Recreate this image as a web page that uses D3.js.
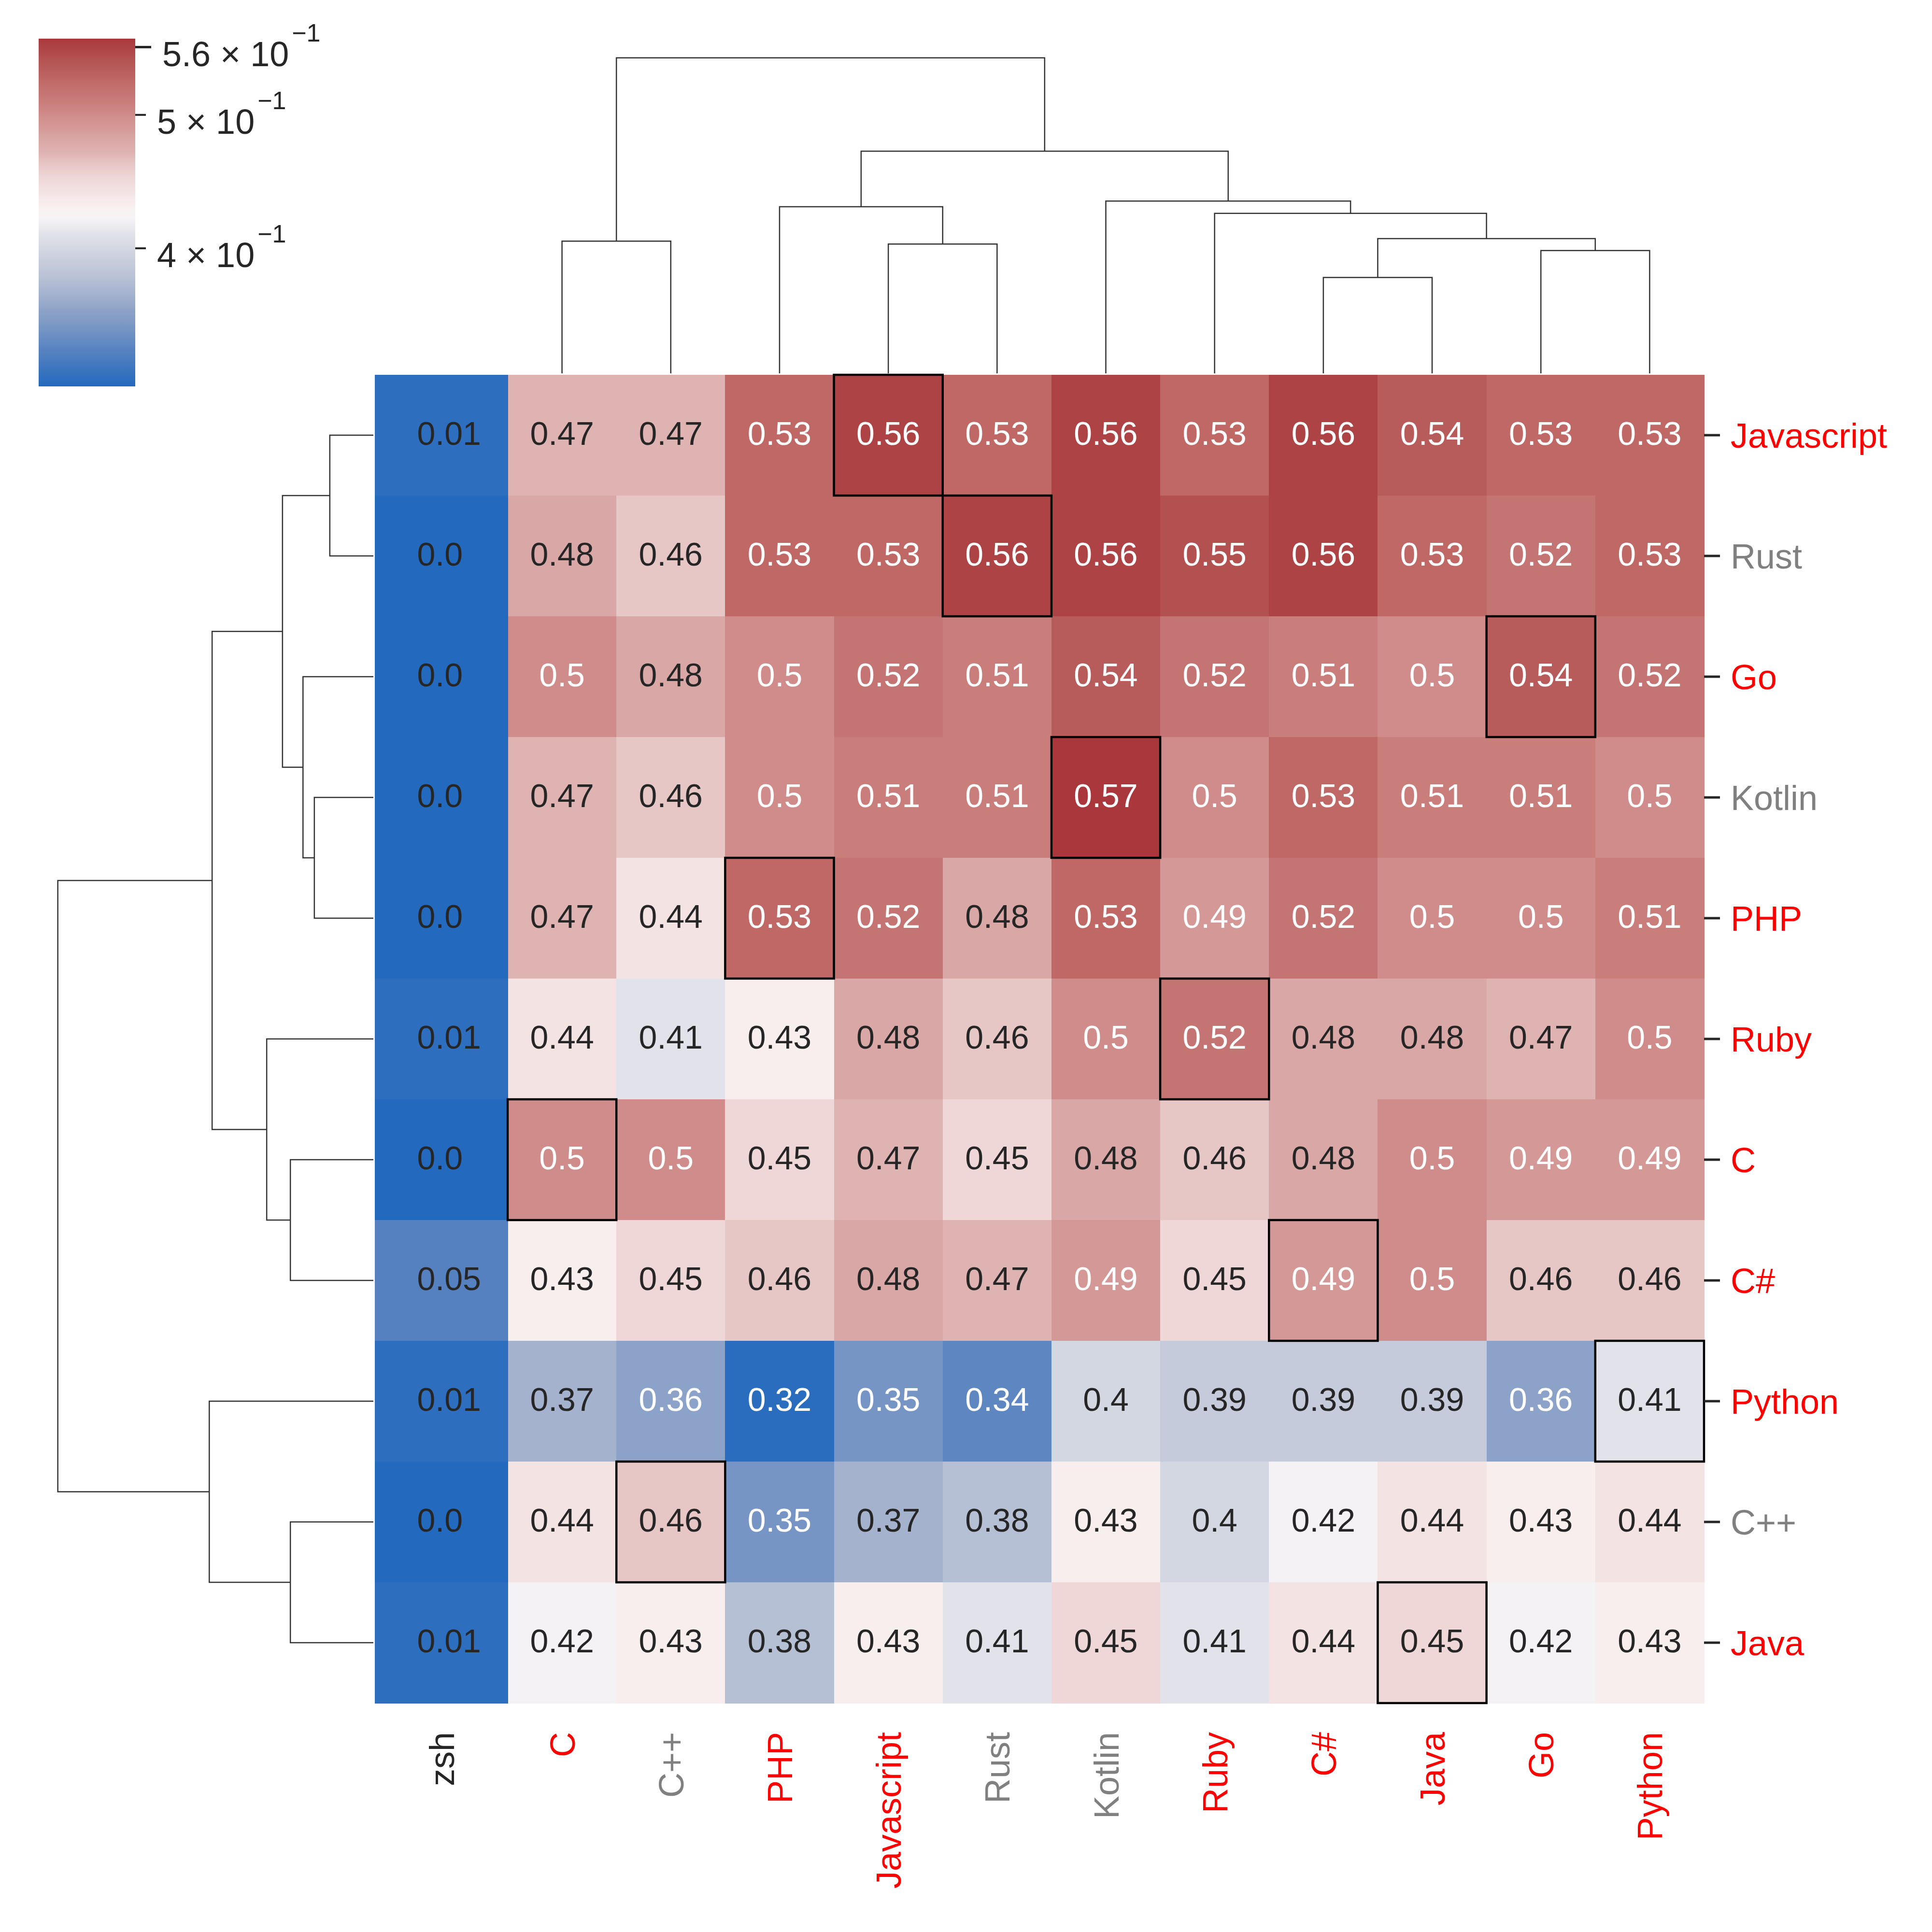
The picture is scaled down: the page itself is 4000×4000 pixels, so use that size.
<!DOCTYPE html>
<html>
<head>
<meta charset="utf-8">
<script src="https://cdn.jsdelivr.net/npm/d3@7"></script>
<style>
  html, body { margin: 0; padding: 0; background: #ffffff; }
  svg { display: block; }
</style>
</head>
<body>
<svg id="chart" width="4000" height="4000"></svg>
<script>
// ---------------- DATA ----------------
const rowLabels = ["Javascript", "Rust", "Go", "Kotlin", "PHP", "Ruby", "C", "C#", "Python", "C++", "Java"];
const colLabels = ["C", "C++", "PHP", "Javascript", "Rust", "Kotlin", "Ruby", "C#", "Java", "Go", "Python"];
const extraColLabel = "zsh";
const zshValues = [0.01, 0.0, 0.0, 0.0, 0.0, 0.01, 0.0, 0.05, 0.01, 0.0, 0.01];

const rowJavascript = [0.47, 0.47, 0.53, 0.56, 0.53, 0.56, 0.53, 0.56, 0.54, 0.53, 0.53];
const rowRust       = [0.48, 0.46, 0.53, 0.53, 0.56, 0.56, 0.55, 0.56, 0.53, 0.52, 0.53];
const rowGo         = [0.50, 0.48, 0.50, 0.52, 0.51, 0.54, 0.52, 0.51, 0.50, 0.54, 0.52];
const rowKotlin     = [0.47, 0.46, 0.50, 0.51, 0.51, 0.57, 0.50, 0.53, 0.51, 0.51, 0.50];
const rowPHP        = [0.47, 0.44, 0.53, 0.52, 0.48, 0.53, 0.49, 0.52, 0.50, 0.50, 0.51];
const rowRuby       = [0.44, 0.41, 0.43, 0.48, 0.46, 0.50, 0.52, 0.48, 0.48, 0.47, 0.50];
const rowC          = [0.50, 0.50, 0.45, 0.47, 0.45, 0.48, 0.46, 0.48, 0.50, 0.49, 0.49];
const rowCSharp     = [0.43, 0.45, 0.46, 0.48, 0.47, 0.49, 0.45, 0.49, 0.50, 0.46, 0.46];
const rowPython     = [0.37, 0.36, 0.32, 0.35, 0.34, 0.40, 0.39, 0.39, 0.39, 0.36, 0.41];
const rowCpp        = [0.44, 0.46, 0.35, 0.37, 0.38, 0.43, 0.40, 0.42, 0.44, 0.43, 0.44];
const rowJava       = [0.42, 0.43, 0.38, 0.43, 0.41, 0.45, 0.41, 0.44, 0.45, 0.42, 0.43];
const values = [rowJavascript, rowRust, rowGo, rowKotlin, rowPHP, rowRuby, rowC, rowCSharp, rowPython, rowCpp, rowJava];

const redLabels = ["Javascript", "Go", "PHP", "Ruby", "C", "C#", "Python", "Java"];
const grayLabels = ["Rust", "Kotlin", "C++"];

// log colour norm range and colourbar ticks
const colorDomain = [0.3175, 0.568];
const zshColorDomain = [0, 0.5];
const cbTicks = [0.56, 0.5, 0.4];
const cbMajorTicks = [0.56];

// dendrograms: [left, right, linkage distance]
const colTree = [["C", "C++", 0.419],
  [["PHP", ["Javascript", "Rust", 0.410], 0.528],
   ["Kotlin", ["Ruby", [["C#", "Java", 0.304], ["Go", "Python", 0.389], 0.427], 0.507], 0.546],
   0.704],
  1.0];
const rowTree = [
  [[["Javascript", "Rust", 0.138], ["Go", ["Kotlin", "PHP", 0.187], 0.223], 0.288],
   ["Ruby", ["C", "C#", 0.263], 0.338], 0.511],
  ["Python", ["C++", "Java", 0.263], 0.520],
  1.0];

// ---------------- COLOUR MAP (vlag) ----------------
const vlagT = [0.00, 0.10, 0.17, 0.22, 0.27, 0.31, 0.35, 0.40, 0.44, 0.46, 0.48, 0.50, 0.52, 0.56, 0.60, 0.64, 0.67, 0.71, 0.75, 0.78, 0.815, 0.85, 0.88, 0.915, 0.945, 0.975, 1.00];
const vlagC = ["#2369bd", "#5581c0", "#7896c4", "#8ea3c8", "#a7b4cf", "#b6c0d5", "#c4cad9", "#d4d8e2", "#e2e3ea", "#ebeaef", "#f4f2f4",
               "#f7f3f3", "#f8eeee", "#f3e3e3", "#eed7d6", "#e6c6c5", "#dfb4b3", "#d9a7a5", "#d39694", "#cf8c8a", "#c97e7c",
               "#c47371", "#bf6866", "#b85b5a", "#b35150", "#ad4345", "#a9373b"];
const vlag = d3.scaleLinear().domain(vlagT).range(vlagC).interpolate(d3.interpolateRgb).clamp(true);

const norm = d3.scaleLog().domain(colorDomain).range([0, 1]).clamp(true);
const zshNorm = d3.scaleLinear().domain(zshColorDomain).range([0, 1]).clamp(true);

function relLum(c) {
  const rgb = d3.rgb(c);
  const f = v => { v /= 255; return v <= 0.03928 ? v / 12.92 : Math.pow((v + 0.055) / 1.055, 2.4); };
  return 0.2126 * f(rgb.r) + 0.7152 * f(rgb.g) + 0.0722 * f(rgb.b);
}
const fmt = v => (Math.abs(v * 10 - Math.round(v * 10)) < 1e-9) ? v.toFixed(1) : String(+v.toFixed(2));

// ---------------- LAYOUT ----------------
const FONT = "'Liberation Sans', Arial, Helvetica, sans-serif";
const DARK = "#262626";
const svg = d3.select("#chart");
svg.append("rect").attr("width", 4000).attr("height", 4000).attr("fill", "#ffffff");

const hmLeft = 776, zshRight = 1051, hmRight = 3528, hmTop = 776, hmBottom = 3526;
const x = d3.scaleBand().domain(colLabels).range([zshRight, hmRight]);
const xz = d3.scaleBand().domain([extraColLabel]).range([hmLeft, zshRight]);
const y = d3.scaleBand().domain(rowLabels).range([hmTop, hmBottom]);

const labelColor = l => redLabels.includes(l) ? "#ff0000" : (grayLabels.includes(l) ? "#808080" : DARK);

// cells
const cells = [];
rowLabels.forEach((r, i) => colLabels.forEach((c, j) => cells.push({ r, c, v: values[i][j] })));
const gCells = svg.append("g").attr("shape-rendering", "crispEdges");
gCells.selectAll("rect.cell").data(cells).join("rect")
  .attr("x", d => x(d.c)).attr("y", d => y(d.r))
  .attr("width", x.bandwidth() + 0.6).attr("height", y.bandwidth() + 0.6)
  .attr("fill", d => vlag(norm(d.v)));

const zcells = rowLabels.map((r, i) => ({ r, v: zshValues[i] }));
gCells.selectAll("rect.z").data(zcells).join("rect")
  .attr("x", xz(extraColLabel)).attr("y", d => y(d.r))
  .attr("width", xz.bandwidth() + 0.6).attr("height", y.bandwidth() + 0.6)
  .attr("fill", d => vlag(zshNorm(d.v)));

// diagonal boxes
const diag = rowLabels.filter(r => colLabels.includes(r));
svg.append("g").selectAll("rect").data(diag).join("rect")
  .attr("x", d => x(d)).attr("y", d => y(d))
  .attr("width", x.bandwidth()).attr("height", y.bandwidth())
  .attr("fill", "none").attr("stroke", "#000000").attr("stroke-width", 4.5);

// annotations
const annFont = 68;
svg.append("g").selectAll("text").data(cells).join("text")
  .attr("x", d => x(d.c) + x.bandwidth() / 2)
  .attr("y", d => y(d.r) + y.bandwidth() / 2 + 20)
  .attr("text-anchor", "middle")
  .attr("font-family", FONT).attr("font-size", annFont)
  .attr("fill", d => relLum(vlag(norm(d.v))) > 0.408 ? DARK : "#ffffff")
  .text(d => fmt(d.v));
svg.append("g").selectAll("text").data(zcells).join("text")
  .attr("x", xz(extraColLabel) + xz.bandwidth() / 2 - 50)
  .attr("y", d => y(d.r) + y.bandwidth() / 2 + 20)
  .attr("text-anchor", "start")
  .attr("font-family", FONT).attr("font-size", annFont)
  .attr("fill", DARK)
  .text(d => fmt(d.v));

// right tick marks + labels
const gR = svg.append("g");
gR.selectAll("line").data(rowLabels).join("line")
  .attr("x1", hmRight).attr("x2", hmRight + 33)
  .attr("y1", d => y(d) + y.bandwidth() / 2).attr("y2", d => y(d) + y.bandwidth() / 2)
  .attr("stroke", DARK).attr("stroke-width", 5);
gR.selectAll("text").data(rowLabels).join("text")
  .attr("x", hmRight + 55)
  .attr("y", d => y(d) + y.bandwidth() / 2 + 26)
  .attr("font-family", FONT).attr("font-size", 72)
  .attr("fill", d => labelColor(d))
  .text(d => d);

// bottom labels (rotated)
const allCols = [extraColLabel].concat(colLabels);
const colCenter = c => c === extraColLabel ? xz(c) + xz.bandwidth() / 2 : x(c) + x.bandwidth() / 2;
svg.append("g").selectAll("text").data(allCols).join("text")
  .attr("transform", d => `translate(${colCenter(d) + 26},${hmBottom + 60}) rotate(-90)`)
  .attr("text-anchor", "end")
  .attr("font-family", FONT).attr("font-size", 72)
  .attr("fill", d => labelColor(d))
  .text(d => d);

// dendrograms
function dendroSegments(tree, pos) {
  const segs = [];
  let maxH = 0;
  (function walk(node) {
    if (typeof node === "string") return { p: pos(node), h: 0 };
    const a = walk(node[0]), b = walk(node[1]);
    segs.push({ a, b, h: node[2] });
    maxH = Math.max(maxH, node[2]);
    return { p: (a.p + b.p) / 2, h: node[2] };
  })(tree);
  return { segs, maxH };
}
const dendroBase = 773, dendroTop = 87;

const topD = dendroSegments(colTree, c => x(c) + x.bandwidth() / 2);
const hTop = d3.scaleLinear().domain([0, topD.maxH * 1.05]).range([dendroBase, dendroTop]);
svg.append("g").selectAll("path").data(topD.segs).join("path")
  .attr("d", s => `M${s.a.p},${hTop(s.a.h)}V${hTop(s.h)}H${s.b.p}V${hTop(s.b.h)}`)
  .attr("fill", "none").attr("stroke", "#333333").attr("stroke-width", 2.5);

const leftD = dendroSegments(rowTree, r => y(r) + y.bandwidth() / 2);
const hLeft = d3.scaleLinear().domain([0, leftD.maxH * 1.05]).range([dendroBase, dendroTop]);
svg.append("g").selectAll("path").data(leftD.segs).join("path")
  .attr("d", s => `M${hLeft(s.a.h)},${s.a.p}H${hLeft(s.h)}V${s.b.p}H${hLeft(s.b.h)}`)
  .attr("fill", "none").attr("stroke", "#333333").attr("stroke-width", 2.5);

// colourbar
const cbX0 = 80, cbX1 = 280, cbY0 = 80, cbY1 = 800;
const defs = svg.append("defs");
const grad = defs.append("linearGradient").attr("id", "cbgrad")
  .attr("x1", 0).attr("y1", 1).attr("x2", 0).attr("y2", 0);
grad.selectAll("stop").data(d3.range(0, 1.0001, 0.01)).join("stop")
  .attr("offset", t => t).attr("stop-color", t => vlag(t));
svg.append("rect").attr("x", cbX0).attr("y", cbY0).attr("width", cbX1 - cbX0).attr("height", cbY1 - cbY0)
  .attr("fill", "url(#cbgrad)");
const cbScale = d3.scaleLog().domain(colorDomain).range([cbY1, cbY0]);
const gT = svg.append("g");
cbTicks.forEach(v => {
  const major = cbMajorTicks.includes(v);
  const ty = cbScale(v);
  const len = major ? 33 : 22;
  gT.append("line").attr("x1", cbX1).attr("x2", cbX1 + len).attr("y1", ty).attr("y2", ty)
    .attr("stroke", DARK).attr("stroke-width", major ? 5 : 4);
  const t = gT.append("text").attr("x", cbX1 + len + 23).attr("y", ty + 39)
    .attr("font-family", FONT).attr("font-size", 72).attr("fill", DARK);
  t.append("tspan").text(`${+(v * 10).toFixed(2)} \u00d7 10`);
  t.append("tspan").attr("dy", -51).attr("dx", 6).attr("font-size", 52).text("\u22121");
});
</script>
</body>
</html>
